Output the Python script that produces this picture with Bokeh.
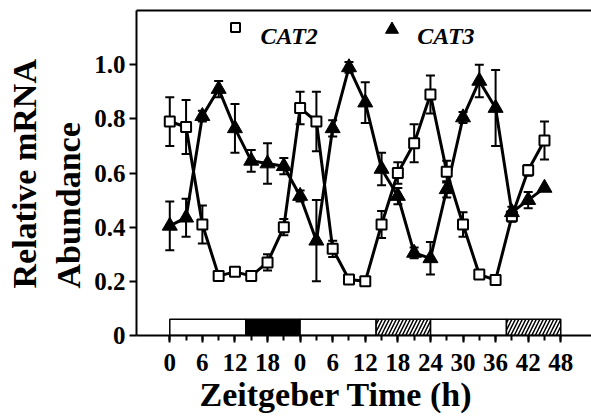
from bokeh.plotting import figure
from bokeh.models import (Range1d, FixedTicker, LinearAxis, Label, Title, ColumnDataSource)
from bokeh.embed import file_html
from bokeh.resources import INLINE

# Sampling times (h, continuous) and relative transcript levels
time_h = [0, 3, 6, 9, 12, 15, 18, 21, 24, 27, 30, 33,
          36, 39, 42, 45, 48, 51, 54, 57, 60, 63, 66, 69]

cat2_mean = [0.79, 0.77, 0.41, 0.22, 0.235, 0.22, 0.27, 0.40, 0.84, 0.79, 0.32, 0.207,
             0.20, 0.41, 0.60, 0.71, 0.89, 0.605, 0.41, 0.225, 0.205, 0.44, 0.61, 0.72]
cat2_err = [0.09, 0.10, 0.07, 0.015, 0.015, 0.015, 0.03, 0.03, 0.06, 0.11, 0.03, 0.015,
            0.015, 0.05, 0.04, 0.07, 0.07, 0.04, 0.045, 0.015, 0.015, 0.02, 0.02, 0.07]

cat3_mean = [0.405, 0.435, 0.81, 0.91, 0.765, 0.645, 0.635, 0.625, 0.515, 0.35, 0.765, 0.99,
             0.86, 0.615, 0.515, 0.305, 0.285, 0.54, 0.805, 0.94, 0.84, 0.455, 0.50, 0.545]
cat3_err = [0.09, 0.07, 0.02, 0.03, 0.09, 0.04, 0.075, 0.03, 0.02, 0.15, 0.03, 0.02,
            0.075, 0.06, 0.03, 0.02, 0.06, 0.03, 0.02, 0.06, 0.14, 0.02, 0.03, 0.0]

# Axis ticks: continuous hours and the Zeitgeber labels shown under them
x_tick_values = [0, 6, 12, 18, 24, 30, 36, 42, 48, 54, 60, 66, 72]
x_tick_labels = ["0", "6", "12", "18", "0", "6", "12", "18", "24", "30", "36", "42", "48"]
x_minor_values = [0, 3, 6, 9, 12, 15, 18, 21, 24, 27, 30, 33, 36,
                  39, 42, 45, 48, 51, 54, 57, 60, 63, 66, 69, 72]
y_tick_values = [0, 0.2, 0.4, 0.6, 0.8, 1.0]
y_tick_labels = ["0", "0.2", "0.4", "0.6", "0.8", "1.0"]

# Light regime bar: light, dark, subjective dark (continuous light)
phase_start = [0, 14, 24, 38, 48, 62]
phase_end = [14, 24, 38, 48, 62, 72]
phase_kind = ["light", "dark", "light", "subjective", "light", "subjective"]

FONT = "Liberation Serif"

# frame geometry (pixels)
W, H = 591, 417
LEFT, TOP, BOTTOM, RIGHT = 136, 10, 82, 0
FRAME_W = W - LEFT - RIGHT
FRAME_H = H - TOP - BOTTOM
X0, X1 = -6.13, 77.66
Y0, Y1 = 0.0, 1.2


def px_x(px):
    return X0 + (px - LEFT) * (X1 - X0) / FRAME_W


def px_y(py):
    return Y0 + (H - BOTTOM - py) * (Y1 - Y0) / FRAME_H


p = figure(width=W, height=H, output_backend="svg", toolbar_location=None,
           x_range=Range1d(X0, X1), y_range=Range1d(Y0, Y1),
           min_border_left=LEFT, min_border_right=RIGHT,
           min_border_top=TOP, min_border_bottom=BOTTOM)
p.outline_line_color = None
p.xgrid.visible = False
p.ygrid.visible = False
p.background_fill_color = "white"
p.border_fill_color = "white"

# x axis
xa = p.xaxis[0]
xa.ticker = FixedTicker(ticks=x_tick_values, minor_ticks=x_minor_values)
xa.major_label_overrides = {v: s for v, s in zip(x_tick_values, x_tick_labels)}
xa.axis_line_width = 2
xa.major_tick_line_width = 2
xa.minor_tick_line_width = 2
xa.major_tick_in = 0
xa.major_tick_out = 7
xa.minor_tick_in = 0
xa.minor_tick_out = 5
xa.major_label_standoff = 11
xa.major_label_text_font = FONT
xa.major_label_text_font_style = "bold"
xa.major_label_text_font_size = "25px"
xa.major_label_text_color = "black"

# y axis
ya = p.yaxis[0]
ya.ticker = FixedTicker(ticks=y_tick_values)
ya.major_label_overrides = {v: s for v, s in zip(y_tick_values, y_tick_labels)}
ya.axis_line_width = 2
ya.major_tick_line_width = 2
ya.minor_tick_line_color = None
ya.major_tick_in = 0
ya.major_tick_out = 7
ya.major_label_standoff = 4
ya.major_label_text_font = FONT
ya.major_label_text_font_style = "bold"
ya.major_label_text_font_size = "25px"
ya.major_label_text_color = "black"

# top border line
top_axis = LinearAxis(ticker=FixedTicker(ticks=[]), axis_line_width=2,
                      major_tick_line_color=None, minor_tick_line_color=None)
p.add_layout(top_axis, "above")

# axis titles
p.add_layout(Title(text="Zeitgeber Time (h)", align="left", offset=63,
                   standoff=0, text_line_height=0.9, text_font=FONT,
                   text_font_style="bold", text_font_size="34px",
                   text_color="black"), "below")
p.add_layout(Title(text="Abundance", align="left", offset=47, standoff=10,
                   text_font=FONT, text_font_style="bold",
                   text_font_size="34px", text_color="black"), "left")
p.add_layout(Title(text="Relative mRNA", align="left", offset=47, standoff=0,
                   text_font=FONT, text_font_style="bold",
                   text_font_size="34px", text_color="black"), "left")

# light regime bar
bar_h = 0.06
plain = [i for i, k in enumerate(phase_kind) if k != "subjective"]
hatched = [i for i, k in enumerate(phase_kind) if k == "subjective"]
p.quad(left=[phase_start[i] for i in plain], right=[phase_end[i] for i in plain],
       bottom=0, top=bar_h,
       fill_color=["black" if phase_kind[i] == "dark" else "white" for i in plain],
       line_color="black", line_width=1.5)
p.quad(left=[phase_start[i] for i in hatched], right=[phase_end[i] for i in hatched],
       bottom=0, top=bar_h, fill_color="white", line_color="black", line_width=1.5,
       hatch_pattern="/", hatch_color="black", hatch_scale=7, hatch_weight=1.5)

# connecting lines
p.line(time_h, cat2_mean, line_color="black", line_width=3)
p.line(time_h, cat3_mean, line_color="black", line_width=3)


def error_bars(means, errs):
    up = [m + e for m, e in zip(means, errs)]
    lo = [m - e for m, e in zip(means, errs)]
    src = ColumnDataSource(dict(t=time_h, up=up, lo=lo))
    p.segment(x0="t", y0="lo", x1="t", y1="up", source=src,
              line_color="black", line_width=2)
    p.scatter(x="t", y="up", source=src, marker="dash", size=9,
              line_color="black", line_width=2)
    p.scatter(x="t", y="lo", source=src, marker="dash", size=9,
              line_color="black", line_width=2)


error_bars(cat2_mean, cat2_err)
error_bars(cat3_mean, cat3_err)

p.scatter(time_h, cat2_mean, marker="square", size=10, fill_color="white",
          line_color="black", line_width=2)
p.scatter(time_h, cat3_mean, marker="triangle", size=15, fill_color="black",
          line_color="black", line_width=1)

# legend
p.scatter([px_x(235)], [px_y(27)], marker="square", size=9, fill_color="white",
          line_color="black", line_width=2)
p.scatter([px_x(391.5)], [px_y(29)], marker="triangle", size=13, fill_color="black",
          line_color="black", line_width=1)
for txt, xp in (("CAT2", 260), ("CAT3", 416.7)):
    p.add_layout(Label(x=px_x(xp), y=px_y(35), text=txt, text_font=FONT,
                       text_font_style="bold italic", text_font_size="24px",
                       text_baseline="alphabetic", text_align="left",
                       text_color="black"))

open("out.html", "w").write(file_html(p, INLINE))
